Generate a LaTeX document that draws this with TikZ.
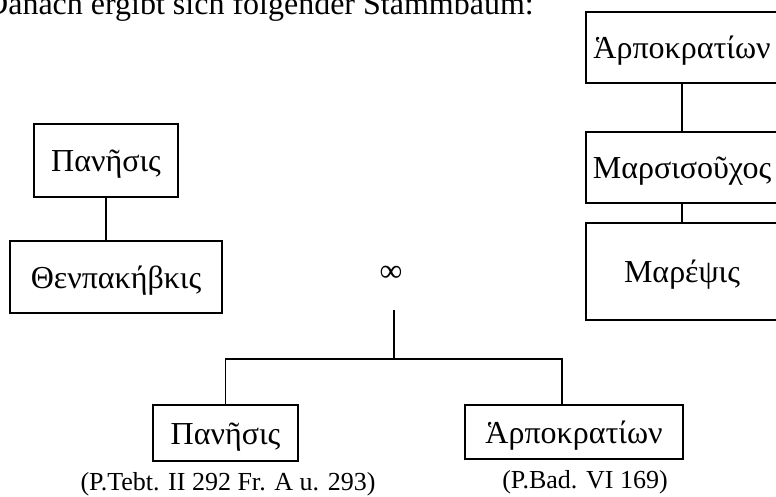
\documentclass[tikz,border=0pt]{standalone}
\usepackage{fontspec}
\setmainfont{Liberation Serif}
\tikzset{
  famnode/.style={draw, line width=1.5pt, inner sep=0pt, outer sep=0pt, anchor=north west,
    text height=22pt, text depth=0pt, font=\fontsize{32}{38}\selectfont},
  srcnote/.style={inner sep=0pt, anchor=base, font=\fontsize{26}{30}\selectfont},
  kinline/.style={line width=1.5pt}
}
\begin{document}
\begin{tikzpicture}[x=1pt,y=-1pt]
\useasboundingbox (0,0) rectangle (776,496);
\clip (0,0) rectangle (776,496);
% heading
\node[anchor=base west, inner sep=0pt, font=\fontsize{32}{38}\selectfont] (head) at (-15,14) {Danach ergibt sich folgender Stammbaum:};
% father's side
\node[famnode, minimum width=144pt, minimum height=73pt] (panA) at (34,124) {Πανῆσις};
\node[famnode, minimum width=212pt, minimum height=72pt] (then) at (10,241) {Θενπακήβκις};
% mother's side
\node[famnode, minimum width=192pt, minimum height=71pt] (harpA) at (586,12) {Ἁρποκρατίων};
\node[famnode, minimum width=192pt, minimum height=71pt] (mars) at (586,132) {Μαρσισοῦχος};
\node[famnode, minimum width=192pt, minimum height=97pt] (mare) at (586,223) {Μαρέψις};
% marriage
\node[inner sep=0pt, font=\fontsize{32}{38}\selectfont] (wed) at (391,274) {∞};
\coordinate (wedbar) at (394,310);
\coordinate (fork) at (394,359);
% children
\node[famnode, minimum width=145pt, minimum height=56pt] (panB) at (153,405) {Πανῆσις};
\node[famnode, minimum width=218pt, minimum height=54pt] (harpB) at (465,405) {Ἁρποκρατίων};
\node[srcnote] (srcB) at (228,490) {(P.Tebt. II 292 Fr. A u. 293)};
\node[srcnote] (srcC) at (585,488) {(P.Bad. VI 169)};
% lines of descent
\draw[kinline] (panA.south) -- (panA.south |- then.north);
\draw[kinline] (harpA.south) -- (mars.north);
\draw[kinline] (mars.south) -- (mare.north);
\draw[kinline] (wedbar) -- (fork);
\draw[kinline] (panB.north) |- (fork) -| ([xshift=-12pt]harpB.north);
\end{tikzpicture}
\end{document}
